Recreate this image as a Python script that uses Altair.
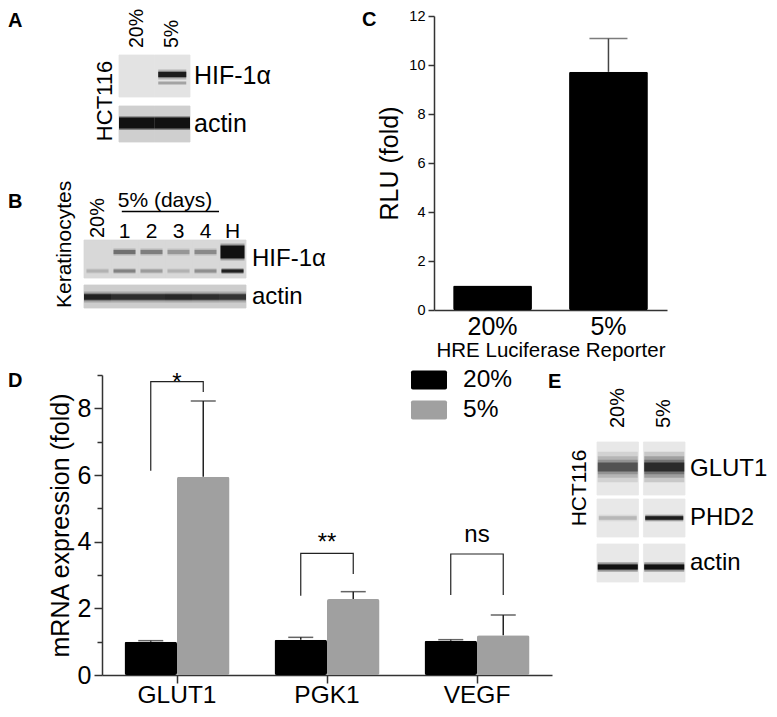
import altair as alt
import pandas as pd

FONT = "Liberation Sans"
W, H = 761, 701
M = 8  # page margin: reference pixel -> plot pixel


def px(v):
    return v - M


def py(v):
    return v - M


# ---------------- data ----------------
# Panel C - HRE luciferase reporter
c_groups = ["20%", "5%"]
c_mean = [1.0, 9.72]
c_err = [0.0, 1.36]

# Panel D - mRNA expression
d_genes = ["GLUT1", "PGK1", "VEGF"]
d_conds = ["20%", "5%"]
d_mean_20 = [1.0, 1.06, 1.03]
d_err_20 = [0.03, 0.07, 0.03]
d_mean_5 = [5.95, 2.28, 1.19]
d_err_5 = [2.27, 0.22, 0.61]
d_sig = ["*", "**", "ns"]
d_sig_left = [6.13, 2.38, 2.40]
d_sig_top = [8.80, 3.65, 3.63]
d_sig_right = [8.49, 3.03, 2.40]
d_sig_text = [8.55, 3.74, 3.99]

# Blot A (HCT116)
a_lanes = ["20%", "5%"]
a_hif = [0.0, 0.9]
a_hif_low = [0.0, 0.3]
a_actin = [1.0, 1.0]

# Blot B (Keratinocytes)
b_lanes = ["20%", "1", "2", "3", "4", "H"]
b_hif = [0.0, 0.38, 0.32, 0.22, 0.28, 1.0]
b_hif_h = [0.0, 0.0, 0.0, 0.0, 0.0, 1.0]
b_hif_low = [0.12, 0.3, 0.2, 0.12, 0.25, 0.85]
b_actin = [0.85, 0.75, 0.75, 0.8, 0.75, 0.7]

# Blot E (HCT116)
e_lanes = ["20%", "5%"]
e_glut1 = [0.5, 0.75]
e_phd2 = [0.15, 0.9]
e_actin = [1.0, 1.0]

AX = dict(domainColor="#333333", tickColor="#333333", domainWidth=1.5, tickWidth=1.5,
          labelColor="black", titleColor="black", grid=False, titleFontWeight="normal",
          labelFont=FONT, titleFont=FONT)

# ---------------- panel C ----------------
c_df = pd.DataFrame({"group": c_groups, "mean": c_mean, "err": c_err})
cx = alt.Scale(domain=c_groups, range=[px(434), px(667)], paddingInner=0.32, paddingOuter=0.165)
cy = alt.Scale(domain=[0, 12], range=[py(310), py(16)], nice=False)
c_xaxis = alt.Axis(orient="bottom", offset=py(310) - H, ticks=False, labelAngle=0, labelFontSize=25,
                   labelPadding=4, title="HRE Luciferase Reporter", titleFontSize=20.5, titlePadding=1, **AX)
c_yaxis = alt.Axis(orient="left", offset=-px(434), values=[0, 2, 4, 6, 8, 10, 12], tickSize=6,
                   labelFontSize=14.5, labelPadding=3, title="RLU (fold)", titleFontSize=25,
                   titlePadding=6, **AX)
c_x = alt.X("group:N", scale=cx, axis=c_xaxis)
c_bars = alt.Chart(c_df).mark_bar(color="black", cornerRadius=1.5).encode(
    x=c_x, y=alt.Y("mean:Q", scale=cy, axis=c_yaxis))
c_errs = alt.Chart(c_df).transform_filter("datum.err > 0").transform_calculate(hi="datum.mean + datum.err")
c_rule = c_errs.mark_rule(color="#444444", strokeWidth=1.5).encode(
    x=c_x, y=alt.Y("mean:Q", scale=cy, axis=c_yaxis), y2="hi:Q")
c_cap = c_errs.mark_tick(color="#444444", thickness=1.5, size=38).encode(
    x=c_x, y=alt.Y("hi:Q", scale=cy, axis=c_yaxis))
panel_c = alt.layer(c_bars, c_rule, c_cap)

# ---------------- panel D ----------------
rows = []
for i, g in enumerate(d_genes):
    rows.append({"gene": g, "cond": "20%", "mean": d_mean_20[i], "hi": d_mean_20[i] + d_err_20[i]})
    rows.append({"gene": g, "cond": "5%", "mean": d_mean_5[i], "hi": d_mean_5[i] + d_err_5[i]})
d_df = pd.DataFrame(rows)

br = []
for i, g in enumerate(d_genes):
    br += [{"gene": g, "cond": "20%", "v": d_sig_left[i], "step": 0},
           {"gene": g, "cond": "20%", "v": d_sig_top[i], "step": 1},
           {"gene": g, "cond": "5%", "v": d_sig_top[i], "step": 2},
           {"gene": g, "cond": "5%", "v": d_sig_right[i], "step": 3}]
br_df = pd.DataFrame(br)
sig_df = pd.DataFrame({"gene": d_genes, "label": d_sig, "v": d_sig_text})

dx_s = alt.Scale(domain=d_genes, range=[px(102), px(552)], paddingInner=0.3, paddingOuter=0.15)
dxo_s = alt.Scale(domain=d_conds, paddingInner=0, paddingOuter=0)
dy_s = alt.Scale(domain=[0, 9], range=[py(675), py(375)], nice=False)
d_xaxis = alt.Axis(orient="bottom", offset=py(675) - H, tickSize=8, labelAngle=0, labelFontSize=24.5,
                   labelPadding=0, title=None, **AX)
d_yaxis = alt.Axis(orient="left", offset=-px(102), values=list(range(10)),
                   tickSize={"condition": {"test": "datum.value % 2 === 0", "value": 8}, "value": 5},
                   labelExpr="datum.value % 2 === 0 ? datum.label : ''",
                   labelFontSize=25, labelPadding=3, title="mRNA expression (fold)",
                   titleFontSize=25, titlePadding=4, **AX)
d_x = alt.X("gene:N", scale=dx_s, axis=d_xaxis)
d_xo = alt.XOffset("cond:N", scale=dxo_s)
legend_path = ("M-0.9,-0.53H0.9Q1,-0.53 1,-0.43V0.43Q1,0.53 0.9,0.53H-0.9"
               "Q-1,0.53 -1,0.43V-0.43Q-1,-0.53 -0.9,-0.53Z")
d_bars = alt.Chart(d_df).mark_bar(cornerRadius=2).encode(
    x=d_x, xOffset=d_xo,
    y=alt.Y("mean:Q", scale=dy_s, axis=d_yaxis),
    color=alt.Color("cond:N", scale=alt.Scale(domain=d_conds, range=["#000000", "#a0a0a0"]),
                    legend=alt.Legend(orient="none", legendX=px(411), legendY=py(362), title=None,
                                      symbolType=legend_path, symbolSize=1296, symbolStrokeWidth=0,
                                      symbolOpacity=1, labelFontSize=24.5, labelFont=FONT,
                                      labelColor="black", labelOffset=16, rowPadding=-2)))
d_rule = alt.Chart(d_df).mark_rule(color="#222222", strokeWidth=1.5).encode(
    x=d_x, xOffset=d_xo, y=alt.Y("mean:Q", scale=dy_s, axis=d_yaxis), y2="hi:Q")
d_cap = alt.Chart(d_df).mark_tick(color="#222222", thickness=1.5, size=25).encode(
    x=d_x, xOffset=d_xo, y=alt.Y("hi:Q", scale=dy_s, axis=d_yaxis))
d_br = alt.Chart(br_df).mark_line(color="#222222", strokeWidth=1.2).encode(
    x=d_x, xOffset=d_xo, y=alt.Y("v:Q", scale=dy_s, axis=d_yaxis),
    detail="gene:N", order="step:Q")
d_sig_t = alt.Chart(sig_df).mark_text(fontSize=24, baseline="alphabetic", align="center",
                                      font=FONT, color="black").encode(
    x=d_x, y=alt.Y("v:Q", scale=dy_s, axis=d_yaxis), text="label:N")
panel_d = alt.layer(d_bars, d_rule, d_cap, d_br, d_sig_t)


# ---------------- blots ----------------
def make_blot(lanes, x_edges, gap, top, height, rows, bands, row_font, row_dx):
    xs = alt.Scale(domain=lanes, range=[px(x_edges[0]), px(x_edges[1])],
                   paddingInner=gap, paddingOuter=0)
    ys = alt.Scale(domain=[0, height], range=[py(top), py(top) + height], nice=False, zero=False)

    def X(**kw):
        return alt.X("lane:N", scale=xs, axis=None, **kw)

    def Y(f):
        return alt.Y(f, scale=ys, axis=None)

    bg = pd.DataFrame([{"lane": l, "t": r[1], "b": r[2], "bg": r[3]} for r in rows for l in lanes])
    layers = [alt.Chart(bg).mark_rect(strokeWidth=0.8).encode(
        x=X(), y=Y("t:Q"), y2="b:Q",
        fill=alt.Fill("bg:N", scale=None), stroke=alt.Stroke("bg:N", scale=None))]
    for center, thick, vals, size, halos in bands:
        df = pd.DataFrame({"lane": lanes, "v": vals})
        df = df[df["v"] > 0]
        passes = list(halos) + [(1.0, 1.0)]
        for mult, fade in passes:
            d = df.assign(t=center - thick * mult / 2, b=center + thick * mult / 2, o=df["v"] * fade)
            layers.append(alt.Chart(d).mark_bar(size=size, color="#111111").encode(
                x=X(), y=Y("t:Q"), y2="b:Q", opacity=alt.Opacity("o:Q", scale=None)))
    lab = pd.DataFrame({"lane": [lanes[-1]] * len(rows), "name": [r[0] for r in rows],
                        "c": [(r[1] + r[2]) / 2 for r in rows]})
    layers.append(alt.Chart(lab).mark_text(align="left", baseline="middle", dx=row_dx,
                                           fontSize=row_font, font=FONT, color="black").encode(
        x=X(bandPosition=1), y=Y("c:Q"), text="name:N"))
    return layers, X, Y


def rot_lane_labels(lanes, X, Y, dx, size):
    df = pd.DataFrame({"lane": lanes, "y": [0] * len(lanes)})
    return alt.Chart(df).mark_text(angle=270, align="left", baseline="middle", dx=dx,
                                   fontSize=size, font=FONT, color="black").encode(
        x=X(), y=Y("y:Q"), text="lane:N")


def side_label(text, lane, yv, X, Y, dy, size, align="center"):
    df = pd.DataFrame({"lane": [lane], "y": [yv], "t": [text]})
    return alt.Chart(df).mark_text(angle=270, align=align, baseline="alphabetic", dy=dy,
                                   fontSize=size, font=FONT, color="black").encode(
        x=X(bandPosition=0), y=Y("y:Q"), text="t:N")


SOFT = [(2.0, 0.25), (1.4, 0.35)]

# A
a_rows = [("HIF-1α", 0, 42, "#e3e3e3"), ("actin", 51, 87, "#cfcfcf")]
a_bands = [(19.5, 5, a_hif, 28, SOFT), (28, 3, a_hif_low, 28, []),
           (68, 11, a_actin, 35.5, [(1.25, 0.4)])]
la, XA, YA = make_blot(a_lanes, (119, 190), 0, 55, 87, a_rows, a_bands, 25, 4)
la.append(rot_lane_labels(a_lanes, XA, YA, 7, 19.5))
la.append(side_label("HCT116", a_lanes[0], 46, XA, YA, -7, 22))
panel_a = alt.layer(*la)

# B
b_rows = [("HIF-1α", 0, 38, "#d8d8d8"), ("actin", 45, 68, "#cdcdcd")]
b_bands = [(12, 4, b_hif, 22, SOFT), (12, 13, b_hif_h, 24, [(1.3, 0.3)]),
           (31, 3, b_hif_low, 22, SOFT), (57, 5.5, b_actin, 27, SOFT)]
lb, XB, YB = make_blot(b_lanes, (84, 246), 0, 240, 68, b_rows, b_bands, 24, 6)
lb.append(rot_lane_labels(b_lanes[:1], XB, YB, 2, 20))
num_df = pd.DataFrame({"lane": b_lanes[1:], "y": [-2] * 5})
lb.append(alt.Chart(num_df).mark_text(baseline="alphabetic", align="center", fontSize=21,
                                      font=FONT, color="black").encode(
    x=XB(), y=YB("y:Q"), text="lane:N"))
days_df = pd.DataFrame({"lane": ["2"], "y": [-33.5], "t": ["5% (days)"]})
lb.append(alt.Chart(days_df).mark_text(baseline="alphabetic", align="center", fontSize=21,
                                       font=FONT, color="black").encode(
    x=XB(bandPosition=1), y=YB("y:Q"), text="t:N"))
line_df = pd.DataFrame({"lane": ["1"], "lane2": ["4"], "y": [-28.5]})
lb.append(alt.Chart(line_df).mark_rule(color="black", strokeWidth=1.3).encode(
    x=XB(bandPosition=0.4), x2=alt.X2("lane2:N", bandPosition=1), y=YB("y:Q")))
lb.append(side_label("Keratinocytes", b_lanes[0], 68, XB, YB, -13, 21, align="left"))
panel_b = alt.layer(*lb)

# E
e_rows = [("GLUT1", 0, 53, "#e8e8e8"), ("PHD2", 57, 95, "#e8e8e8"), ("actin", 102, 140, "#e8e8e8")]
e_bands = [(25, 9, e_glut1, 40, [(3.4, 0.2), (2.4, 0.3), (1.6, 0.4)]),
           (76, 3.5, e_phd2, 38, SOFT), (125, 5, e_actin, 40, SOFT)]
le, XE, YE = make_blot(e_lanes, (597, 685), 0.1075, 442, 140, e_rows, e_bands, 24, 5)
le.append(rot_lane_labels(e_lanes, XE, YE, 14, 20))
le.append(side_label("HCT116", e_lanes[0], 46, XE, YE, -11, 21))
panel_e = alt.layer(*le)

# panel letters
letters = [("A", 5, 27), ("B", 5, 208), ("C", 362, 26), ("D", 3, 387), ("E", 548, 388)]
letter_layers = []
for t, lx, ly in letters:
    letter_layers.append(
        alt.Chart(pd.DataFrame({"t": [t]})).mark_text(
            align="left", baseline="alphabetic", fontSize=20, fontWeight="bold",
            font=FONT, color="black").encode(
            x=alt.value(max(px(lx), 0)), y=alt.value(py(ly)), text="t:N"))

chart = alt.layer(panel_a, panel_b, panel_c, panel_d, panel_e, *letter_layers).resolve_scale(
    x="independent", y="independent"
).properties(
    width=W, height=H, padding=0, autosize=alt.AutoSizeParams(type="none")
).configure(font=FONT).configure_view(stroke=None)

chart.save("out.html", embed_options={"renderer": "svg", "actions": False})
